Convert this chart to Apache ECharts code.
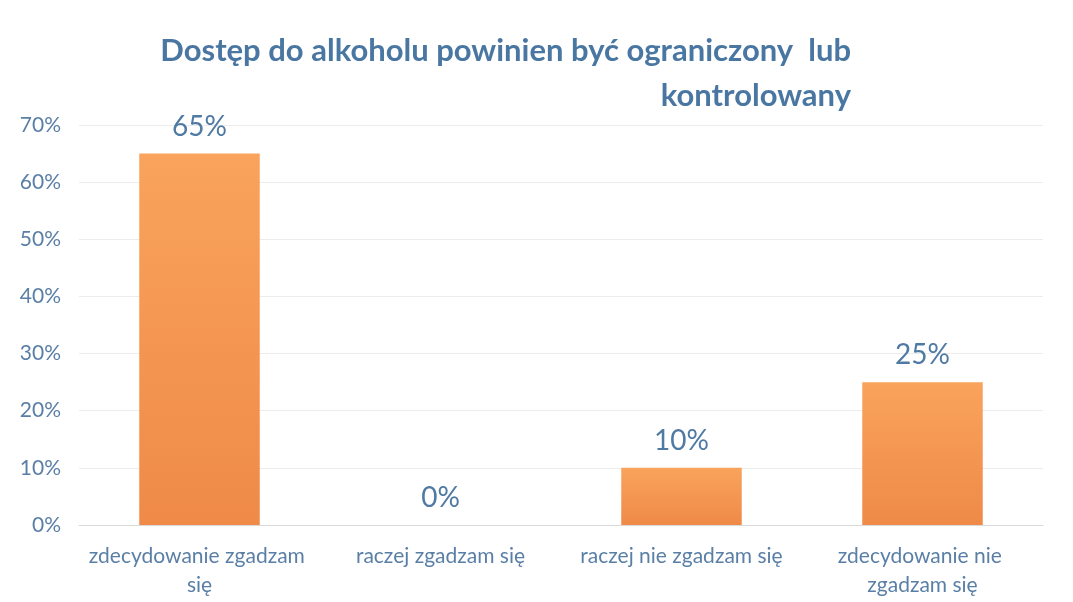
<!DOCTYPE html>
<html>
<head>
<meta charset="utf-8">
<script src="https://cdn.jsdelivr.net/npm/echarts@6/dist/echarts.min.js"></script>
<style>
  html, body { margin: 0; padding: 0; background: #fff; }
  #chart { width: 1073px; height: 602px; }
</style>
</head>
<body>
<div id="chart"></div>
<script>
const titleLines = ['Dostęp do alkoholu powinien być ograniczony  lub', 'kontrolowany'];
const categories = ['zdecydowanie zgadzam się', 'raczej zgadzam się', 'raczej nie zgadzam się', 'zdecydowanie nie zgadzam się'];
const values = [65, 0, 10, 25];

const textBlue = '#5a7fa6';
const font = 'Lato';

const chart = echarts.init(document.getElementById('chart'));
chart.setOption({
    animation: false,
    backgroundColor: '#fff',
    graphic: titleLines.map((t, i) => ({
        type: 'text',
        x: 851,
        y: 51 + i * 45,
        style: {
            text: t,
            textAlign: 'right',
            textVerticalAlign: 'middle',
            fill: '#4a77a2',
            font: 'bold 31px ' + font
        }
    })),
    grid: {
        left: 79,
        right: 30,
        top: 125,
        bottom: 77
    },
    xAxis: {
        type: 'category',
        data: categories,
        axisLine: { lineStyle: { color: '#d9d9d9' } },
        axisTick: { show: false },
        axisLabel: {
            color: textBlue,
            fontFamily: font,
            fontSize: 21,
            lineHeight: 29,
            margin: 17,
            width: 226,
            overflow: 'break',
            interval: 0
        }
    },
    yAxis: {
        type: 'value',
        min: 0,
        max: 70,
        interval: 10,
        axisLine: { show: false },
        axisTick: { show: false },
        splitLine: { lineStyle: { color: '#ececec' } },
        axisLabel: {
            color: textBlue,
            fontFamily: font,
            fontSize: 21,
            margin: 18,
            formatter: '{value}%'
        }
    },
    series: [{
        type: 'bar',
        data: values,
        barWidth: '50%',
        itemStyle: {
            color: new echarts.graphic.LinearGradient(0, 0, 0, 1, [
                { offset: 0, color: '#f9a35c' },
                { offset: 1, color: '#ef8a48' }
            ])
        },
        label: {
            show: true,
            position: 'top',
            distance: 13,
            formatter: '{c}%',
            color: '#4f7aa3',
            fontFamily: font,
            fontSize: 28
        }
    }]
});
</script>
</body>
</html>
